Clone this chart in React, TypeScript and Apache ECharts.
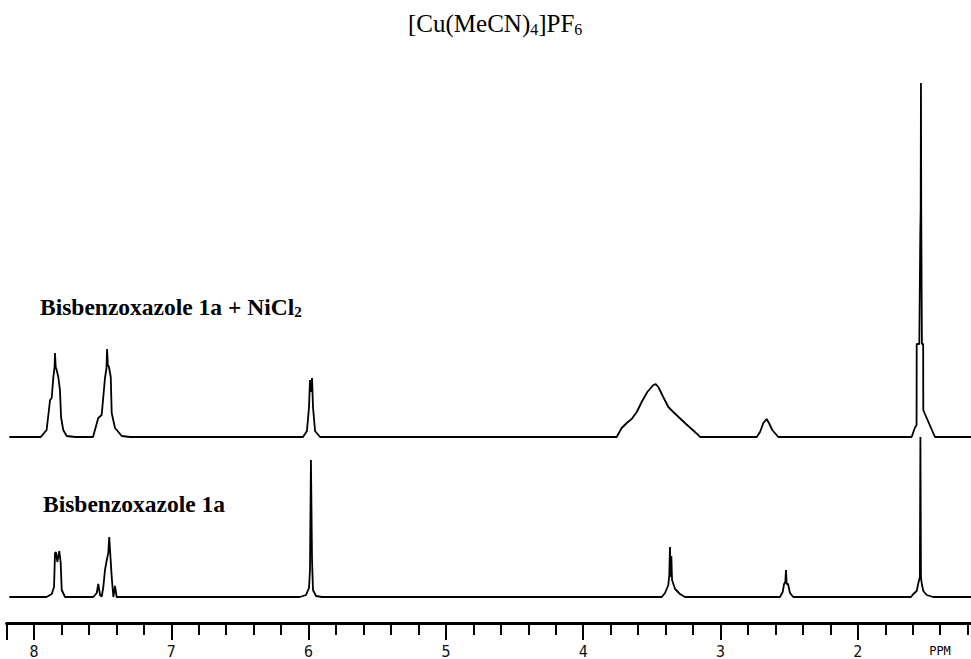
import { useEffect, useRef } from 'react';
import * as echarts from 'echarts';

const TITLE_PARTS = ['[Cu(MeCN)', '4', ']PF', '6'];
const LABEL_TOP_PARTS = ['Bisbenzoxazole 1a + NiCl', '2'];
const LABEL_BOTTOM = 'Bisbenzoxazole 1a';
const AXIS_UNIT = 'PPM';
const AXIS_MIN = 1;
const AXIS_MAX = 8.2;
const TICK_LABELS = ['2', '3', '4', '5', '6', '7', '8'];

// vertical offset of the upper trace (same units as intensity)
const TOP_OFFSET = 160;

// [ppm, intensity] — Bisbenzoxazole 1a + NiCl2 (upper trace)
const TOP_SPECTRUM: [number, number][] = [
  [8.18, 0],
  [7.951, 0], [7.908, 7], [7.883, 37], [7.871, 39], [7.859, 60], [7.85, 70], [7.847, 84], [7.842, 70], [7.835, 67], [7.823, 60], [7.811, 47], [7.803, 20], [7.787, 7], [7.762, 1], [7.7, 0],
  [7.57, 0], [7.532, 19], [7.507, 22], [7.483, 59], [7.472, 69], [7.468, 88], [7.462, 72], [7.454, 70], [7.441, 60], [7.434, 24], [7.41, 9], [7.361, 1], [7.3, 0],
  [6.041, 0], [6.012, 6], [5.997, 30], [5.99, 57], [5.983, 45], [5.975, 59], [5.968, 30], [5.953, 6], [5.917, 0],
  [3.756, 0], [3.72, 9], [3.683, 14], [3.647, 18], [3.61, 25], [3.574, 35], [3.533, 45], [3.489, 52], [3.472, 53], [3.453, 50], [3.417, 40], [3.38, 30], [3.344, 25], [3.259, 14], [3.162, 2], [3.149, 0],
  [2.736, 0], [2.712, 5], [2.688, 14], [2.664, 18], [2.647, 14], [2.623, 7], [2.579, 0],
  [1.608, 0], [1.585, 9], [1.572, 12], [1.571, 93], [1.552, 93], [1.545, 202], [1.542, 227], [1.54, 354], [1.538, 227], [1.533, 93], [1.524, 93], [1.523, 27], [1.511, 23], [1.438, 0],
  [1.17, 0],
];

// [ppm, intensity] — Bisbenzoxazole 1a (lower trace)
const BOTTOM_SPECTRUM: [number, number][] = [
  [8.18, 0],
  [7.908, 0], [7.871, 3], [7.854, 10], [7.847, 44], [7.84, 45], [7.83, 35], [7.816, 46], [7.806, 35], [7.798, 7], [7.774, 0],
  [7.568, 0], [7.543, 4], [7.532, 13], [7.519, 2], [7.507, 0.5], [7.495, 10], [7.483, 27], [7.47, 37], [7.459, 44], [7.452, 60], [7.444, 42], [7.434, 20], [7.422, 0], [7.41, 11], [7.398, 0], [7.374, 0],
  [6.063, 0], [6.019, 2], [5.997, 9], [5.99, 27], [5.983, 137], [5.975, 37], [5.968, 7], [5.946, 1], [5.902, 0],
  [3.428, 0], [3.404, 4], [3.38, 12], [3.373, 22], [3.368, 50], [3.363, 20], [3.358, 41], [3.353, 17], [3.331, 8], [3.295, 3], [3.259, 0],
  [2.567, 0], [2.547, 5], [2.537, 13], [2.528, 15], [2.523, 27], [2.518, 13], [2.508, 13], [2.494, 4], [2.47, 0],
  [1.612, 0], [1.596, 3], [1.571, 6], [1.559, 14], [1.548, 20], [1.544, 160], [1.54, 20], [1.535, 14], [1.523, 6], [1.498, 2], [1.452, 0],
  [1.17, 0],
];

// chart canvas is a bit wider than the window so that ppm 1.0 falls just off-screen
const CHART_W = 1000;
const CHART_H = 659;

export default function App() {
  const ref = useRef<HTMLDivElement>(null);

  useEffect(() => {
    if (!ref.current) return;
    const chart = echarts.init(ref.current, null, { renderer: 'svg' });

    const serif = '"Liberation Serif", "Times New Roman", serif';
    const labelRich = {
      a: { fontFamily: serif, fontWeight: 'bold', fontSize: 23.5, lineHeight: 24, verticalAlign: 'top', color: '#000' },
      b: { fontFamily: serif, fontWeight: 'bold', fontSize: 15, lineHeight: 15, padding: [11, 0, 0, 0], verticalAlign: 'bottom', color: '#000' },
    };

    chart.setOption({
      animation: false,
      backgroundColor: '#ffffff',
      title: [
        {
          text: `{a|${TITLE_PARTS[0]}}{b|${TITLE_PARTS[1]}}{a|${TITLE_PARTS[2]}}{b|${TITLE_PARTS[3]}}`,
          left: 408,
          top: 11,
          padding: 0,
          textStyle: {
            fontWeight: 'normal',
            rich: {
              a: { fontFamily: serif, fontWeight: 'normal', fontSize: 25, lineHeight: 26, verticalAlign: 'top', color: '#000' },
              b: { fontFamily: serif, fontWeight: 'normal', fontSize: 16, lineHeight: 16, padding: [12, 0, 0, 0], verticalAlign: 'bottom', color: '#000' },
            },
          },
        },
        {
          text: `{a|${LABEL_TOP_PARTS[0]}}{b|${LABEL_TOP_PARTS[1]}}`,
          left: 40,
          top: 295,
          padding: 0,
          textStyle: { rich: labelRich },
        },
        {
          text: `{a|${LABEL_BOTTOM}}`,
          left: 43,
          top: 492,
          padding: 0,
          textStyle: { rich: labelRich },
        },
      ],
      graphic: [
        {
          type: 'text',
          x: 940,
          y: 651,
          style: {
            text: AXIS_UNIT,
            font: '12px "DejaVu Sans Mono", monospace',
            fill: '#000',
            align: 'center',
            verticalAlign: 'middle',
          },
        },
      ],
      grid: { left: 6.54, right: CHART_W - 995.1, top: 77, bottom: 36, containLabel: false },
      xAxis: {
        type: 'value',
        inverse: true,
        min: AXIS_MIN,
        max: AXIS_MAX,
        interval: 1,
        position: 'bottom',
        axisLine: { show: true, onZero: false, lineStyle: { color: '#000', width: 3 } },
        axisTick: { show: true, length: 17, lineStyle: { color: '#000', width: 2 } },
        minorTick: { show: true, splitNumber: 5, length: 12, lineStyle: { color: '#000', width: 2 } },
        splitLine: { show: false },
        minorSplitLine: { show: false },
        axisLabel: {
          margin: 21,
          showMaxLabel: false,
          fontFamily: '"DejaVu Sans Mono", monospace',
          fontSize: 15,
          color: '#111',
          formatter: (v: number) => {
            const s = String(Math.round(v));
            return Math.abs(v - Math.round(v)) < 1e-6 && TICK_LABELS.includes(s) ? s : '';
          },
        },
      },
      yAxis: { type: 'value', min: -26, max: 520, show: false },
      series: [
        {
          type: 'line',
          name: 'top',
          data: TOP_SPECTRUM.map(([x, y]) => [x, y + TOP_OFFSET]),
          showSymbol: false,
          symbol: 'none',
          lineStyle: { color: '#000', width: 1.8 },
          silent: true,
          z: 3,
        },
        {
          type: 'line',
          name: 'bottom',
          data: BOTTOM_SPECTRUM,
          showSymbol: false,
          symbol: 'none',
          lineStyle: { color: '#000', width: 1.8 },
          silent: true,
          z: 2,
        },
      ],
    });

    return () => chart.dispose();
  }, []);

  return (
    <div
      ref={ref}
      style={{ position: 'fixed', left: 0, top: 0, width: CHART_W, height: CHART_H, background: '#fff' }}
    />
  );
}
